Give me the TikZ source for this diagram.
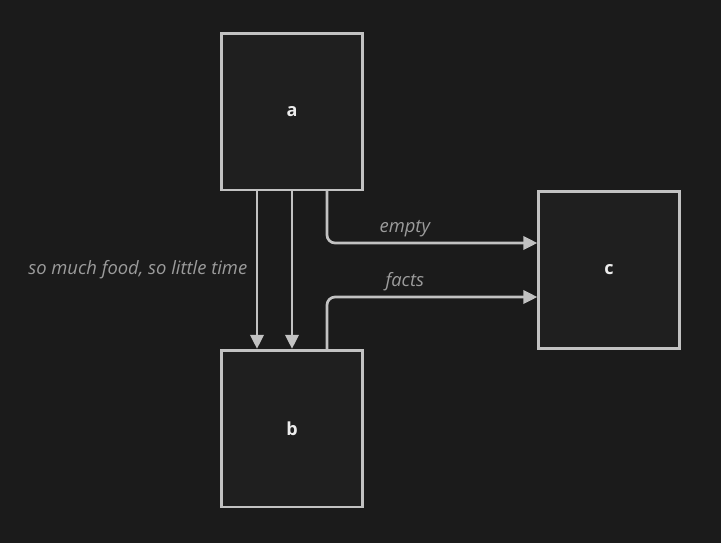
\documentclass[tikz,border=0pt]{standalone}
\usepackage{fontspec}
\setmainfont{Open Sans}
\usetikzlibrary{arrows.meta,positioning}
\definecolor{bgcol}{HTML}{1B1B1B}
\definecolor{boxfill}{HTML}{1F1F1F}
\definecolor{edgecol}{HTML}{C2C2C2}
\definecolor{labelcol}{HTML}{9C9C9C}
\definecolor{namecol}{HTML}{ECECEC}
\tikzset{
	block/.style={draw=edgecol,fill=boxfill,line width=2pt,minimum width=105.5pt,minimum height=117.5pt,inner sep=0pt,text=namecol,font=\bfseries\fontsize{13.5}{16}\selectfont},
	link/.style={draw=edgecol,line width=2pt,-{Triangle[length=10.5pt,width=10pt]},rounded corners=6pt},
	linklabel/.style={text=labelcol,font=\itshape\fontsize{13.8}{16}\selectfont}
}
\begin{document}
\begin{tikzpicture}[x=0.75pt,y=-0.75pt]
	\fill[bgcol] (0,0) rectangle (721,543);% background
	\useasboundingbox (0,0) rectangle (721,543);

		\node[block] (a) at (292,111.5) {a};
		\node[block] (b) at (292,428.5) {b};
		\node[block] (c) at (609,270) {c};

		\draw[link] ([xshift=-26.25pt]a.south) -- node[linklabel,left=3pt] {so much food, so little time} ([xshift=-26.25pt]b.north);
		\draw[link] (a.south) -- (b.north);
		\draw[link] ([xshift=26.25pt]a.south) |- node[linklabel,above=0pt,pos=0.685] {empty} ([yshift=20.25pt]c.west);
		\draw[link] ([xshift=26.25pt]b.north) |- node[linklabel,above=0pt,pos=0.685] {facts} ([yshift=-20.25pt]c.west);
	\end{tikzpicture}
\end{document}
